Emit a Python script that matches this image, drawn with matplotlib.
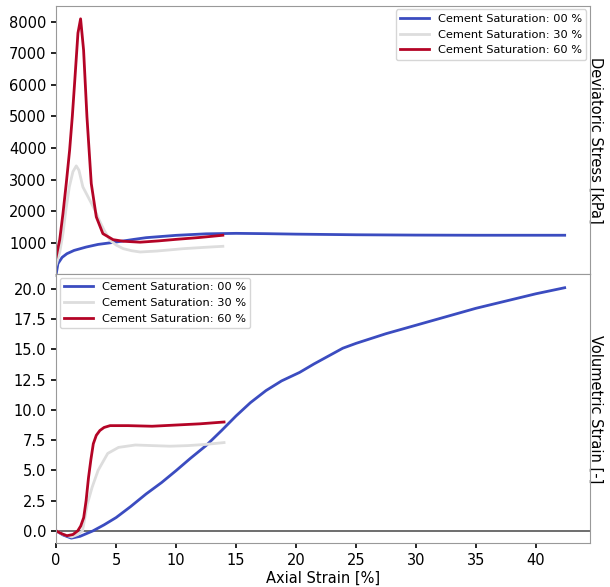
import matplotlib.pyplot as plt

# deviatoric stress [kPa] vs axial strain [%]
q00_x = [0, 0.15, 0.5, 0.9, 1.5, 2.5, 3.5, 5, 6.5, 7.5, 10, 12.5, 15, 17.5, 20, 25, 30, 35, 40, 42.4]
q00_y = [0, 340, 540, 656, 760, 866, 950, 1025, 1110, 1163, 1237, 1285, 1300, 1290, 1275, 1255, 1245, 1240, 1240, 1240]

q30_x = [0, 0.3, 0.57, 0.8, 1.1, 1.4, 1.68, 1.9, 2.23, 2.6, 2.93, 3.3, 3.6, 4.0, 4.5, 5.0, 5.6, 6.3, 7, 8.4, 10.6, 12.5, 13.9]
q30_y = [300, 700, 1290, 2000, 2770, 3250, 3435, 3300, 2770, 2500, 2260, 1980, 1710, 1400, 1080, 930, 815, 750, 710, 740, 815, 860, 890]

q60_x = [0, 0.3, 0.57, 0.85, 1.125, 1.35, 1.54, 1.82, 2.04, 2.29, 2.57, 2.93, 3.35, 3.9, 4.75, 5.6, 7, 8.5, 10, 12, 13.9]
q60_y = [550, 1100, 1925, 2900, 3930, 5000, 6050, 7640, 8090, 7100, 4990, 2877, 1820, 1290, 1100, 1050, 1020, 1060, 1110, 1170, 1240]

# volumetric strain [-] vs axial strain [%]
ev00_x = [0, 0.6, 1.27, 2.0, 3.07, 4.0, 5, 6.2, 7.5, 8.8, 10, 11.2, 12.5, 13.8, 15, 16.2, 17.5, 18.8, 20.3, 21.5, 23.9, 25, 27.5, 30, 32.5, 35, 37.5, 40, 42.4]
ev00_y = [0, -0.35, -0.6, -0.45, 0, 0.5, 1.1, 2.0, 3.05, 4.0, 4.98, 6.0, 7.05, 8.3, 9.5, 10.6, 11.6, 12.4, 13.1, 13.8, 15.1, 15.5, 16.3, 17.0, 17.7, 18.4, 19.0, 19.6, 20.1]

ev30_x = [0, 0.6, 1.3, 1.8, 2.2, 2.6, 3.0, 3.5, 4.3, 5.2, 6.6, 8, 9.5, 11, 12.5, 14]
ev30_y = [0, -0.3, -0.5, -0.3, 0, 2.2, 3.6, 5.0, 6.4, 6.9, 7.1, 7.05, 7.0, 7.05, 7.15, 7.3]

ev60_x = [0, 0.5, 0.9, 1.4, 1.8, 2.05, 2.3, 2.5, 2.7, 2.9, 3.1, 3.35, 3.65, 4.0, 4.5, 6, 8, 10, 12, 14]
ev60_y = [0, -0.25, -0.4, -0.3, 0, 0.4, 1.1, 2.5, 4.4, 5.9, 7.2, 7.9, 8.3, 8.55, 8.7, 8.7, 8.65, 8.75, 8.85, 9.0]

labels = ["Cement Saturation: 00 %", "Cement Saturation: 30 %", "Cement Saturation: 60 %"]
colors = ["#3b4cc0", "#dddddd", "#b40426"]

fig, (ax1, ax2) = plt.subplots(2, 1, sharex=True, figsize=(6.1, 5.87), dpi=100)
fig.subplots_adjust(left=0.092, right=0.967, top=0.99, bottom=0.075, hspace=0)

ax1.plot(q00_x, q00_y, color=colors[0], lw=2, label=labels[0])
ax1.plot(q30_x, q30_y, color=colors[1], lw=2, label=labels[1])
ax1.plot(q60_x, q60_y, color=colors[2], lw=2, label=labels[2])

ax2.plot(ev00_x, ev00_y, color=colors[0], lw=2, label=labels[0])
ax2.plot(ev30_x, ev30_y, color=colors[1], lw=2, label=labels[1])
ax2.plot(ev60_x, ev60_y, color=colors[2], lw=2, label=labels[2])
ax2.axhline(0, color='#555555', lw=1.2, zorder=0)

ax1.set_xlim(0, 44.5)
ax1.set_ylim(0, 8500)
ax1.set_yticks([1000, 2000, 3000, 4000, 5000, 6000, 7000, 8000])
ax2.set_ylim(-1.0, 21.2)
ax2.set_yticks([0, 2.5, 5, 7.5, 10, 12.5, 15, 17.5, 20])
ax2.set_yticklabels([f"{v:.1f}" for v in [0, 2.5, 5, 7.5, 10, 12.5, 15, 17.5, 20]])
ax2.set_xticks([0, 5, 10, 15, 20, 25, 30, 35, 40])

for ax in (ax1, ax2):
    for s in ax.spines.values():
        s.set_color('#999999')
    ax.tick_params(labelsize=10.5, length=3.5, width=1.2, color='black')
    ax.yaxis.set_label_position('right')
ax1.tick_params(axis='x', color='#cccccc', length=2)

ax1.set_ylabel("Deviatoric Stress [kPa]", rotation=270, labelpad=6, fontsize=10.5)
ax2.set_ylabel("Volumetric Strain [-]", rotation=270, labelpad=6, fontsize=10.5)
ax1.yaxis.set_label_coords(1.025, 0.5)
ax2.yaxis.set_label_coords(1.025, 0.5)
ax2.set_xlabel("Axial Strain [%]", fontsize=10.5, labelpad=2)

ax1.legend(loc='upper right', fontsize=8.2, handlelength=2.5, borderaxespad=0.3)
ax2.legend(loc='upper left', fontsize=8.2, handlelength=2.5, borderaxespad=0.3)

fig.savefig("out.png", dpi=100)
